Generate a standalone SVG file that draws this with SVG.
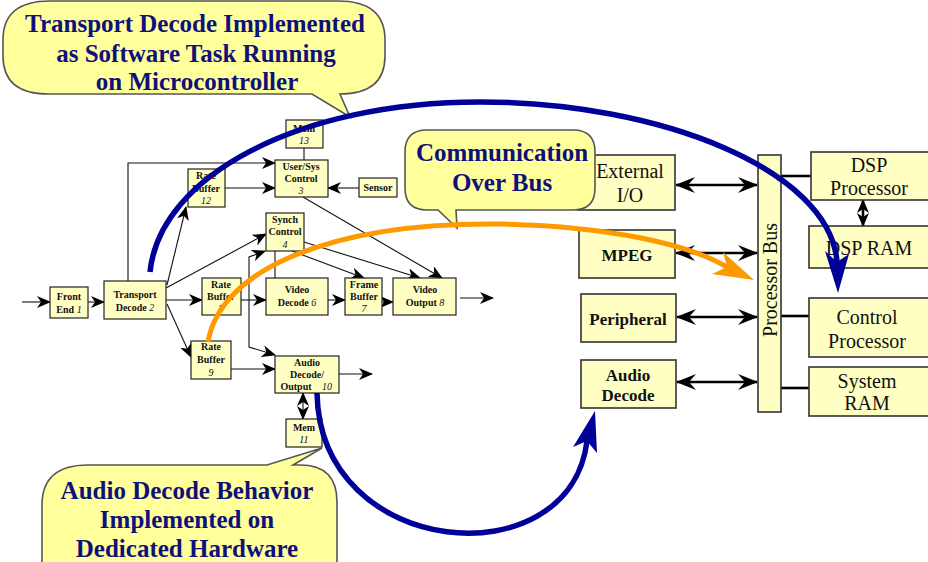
<svg xmlns="http://www.w3.org/2000/svg" width="928" height="562" viewBox="0 0 928 562">
  <defs>
    <style>
      .box { fill: #ffffc4; stroke: #222; stroke-width: 1.2; }
      .bigbox { fill: #ffffc4; stroke: #333; stroke-width: 1.6; }
      .t { font-family: "Liberation Serif", serif; font-weight: bold; font-size: 10px; text-anchor: middle; fill: #111; }
      .num { font-style: italic; font-weight: normal; }
      .rt { font-family: "Liberation Serif", serif; font-size: 20px; text-anchor: middle; fill: #111; }
      .rbt { font-family: "Liberation Serif", serif; font-weight: bold; font-size: 17px; text-anchor: middle; fill: #111; }
      .line { fill: none; stroke: #111; stroke-width: 1.1; }
      .arr { marker-end: url(#head); }
      .bus { fill: none; stroke: #000; stroke-width: 2.6; }
      .bubble { fill: #ffff9c; stroke: #555; stroke-width: 1.6; }
      .ct { font-family: "Liberation Serif", serif; font-weight: bold; font-size: 25px; text-anchor: middle; fill: #10107a; }
      .blue { fill: none; stroke: #000099; stroke-width: 5.5; }
      .orange { fill: none; stroke: #ff9900; stroke-width: 5; }
    </style>
    <marker id="head" markerUnits="userSpaceOnUse" viewBox="0 0 14 12" refX="13" refY="6" markerWidth="14" markerHeight="12" orient="auto-start-reverse">
      <path d="M0,0 L14,6 L0,12 L4,6 Z" fill="#000"/>
    </marker>
    <marker id="bighead" markerUnits="userSpaceOnUse" viewBox="0 0 20 16" refX="19" refY="8" markerWidth="20" markerHeight="16" orient="auto-start-reverse">
      <path d="M0,0 L20,8 L0,16 L7,8 Z" fill="#000"/>
    </marker>
  </defs>

  <rect width="928" height="562" fill="#fff"/>

  <!-- connectors -->
  <g id="connectors">
    <path class="line arr" d="M22,302 H50"/>
    <path class="line arr" d="M88,302 H104"/>
    <path class="line arr" d="M166,300 H202"/>
    <path class="line arr" d="M128,281 V163 H275"/>
    <path class="line arr" d="M225,188 H275"/>
    <path class="line arr" d="M359,188 H328"/>
    <path class="line" d="M304,148 V160"/>
    <path class="line arr" d="M167,285 L186,207"/>
    <path class="line arr" d="M166,288 L266,234"/>
    <path class="line arr" d="M167,304 L191,357"/>
    <path class="line arr" d="M241,300 H266"/>
    <path class="line arr" d="M249,300 V257 L265,251"/>
    <path class="line arr" d="M249,300 V347 L275,355"/>
    <path class="line" d="M275,251 V278"/>
    <path class="line arr" d="M292,251 L364,278"/>
    <path class="line arr" d="M304,242 L420,278"/>
    <path class="line arr" d="M303,197 L442,278"/>
    <path class="line arr" d="M328,300 H345"/>
    <path class="line arr" d="M382,302 H393"/>
    <path class="line arr" d="M460,298 H493"/>
    <path class="line arr" d="M231,369 H275"/>
    <path class="line arr" d="M339,374 H372"/>
    <path class="line" d="M303,393 V419" stroke-width="2.5" marker-start="url(#head)" marker-end="url(#head)"/>

    <path class="bus" d="M676,185 H757" marker-start="url(#bighead)" marker-end="url(#bighead)"/>
    <path class="bus" d="M676,253 H757" marker-start="url(#bighead)" marker-end="url(#bighead)"/>
    <path class="bus" d="M677,317 H757" marker-start="url(#bighead)" marker-end="url(#bighead)"/>
    <path class="bus" d="M677,382 H757" marker-start="url(#bighead)" marker-end="url(#bighead)"/>
    <path class="bus" d="M781,176 H811"/>
    <path class="bus" d="M781,316 H809"/>
    <path class="bus" d="M781,388 H809"/>
    <path class="bus" d="M863,200 V226" marker-start="url(#head)" marker-end="url(#head)"/>
  </g>

  <!-- block diagram nodes -->
  <g id="front-end"><rect class="box" x="50" y="287" width="38" height="31"/>
    <text class="t" x="69" y="300">Front</text><text class="t" x="69" y="313">End <tspan class="num">1</tspan></text></g>
  <g id="transport-decode"><rect class="box" x="104" y="281" width="62" height="38"/>
    <text class="t" x="135" y="298">Transport</text><text class="t" x="135" y="311">Decode <tspan class="num">2</tspan></text></g>
  <g id="rate-buffer-12"><rect class="box" x="188" y="169" width="37" height="38"/>
    <text class="t" x="206" y="179">Rate</text><text class="t" x="206" y="192">Buffer</text><text class="t num" x="206" y="204">12</text></g>
  <g id="mem-13"><rect class="box" x="286" y="120" width="37" height="28"/>
    <text class="t" x="304" y="132">Mem</text><text class="t num" x="304" y="144">13</text></g>
  <g id="user-sys-control"><rect class="box" x="275" y="160" width="53" height="37"/>
    <text class="t" x="301" y="170">User/Sys</text><text class="t" x="301" y="182">Control</text><text class="t num" x="301" y="194">3</text></g>
  <g id="sensor"><rect class="box" x="359" y="178" width="38" height="19"/>
    <text class="t" x="378" y="191" font-size="9">Sensor</text></g>
  <g id="synch-control"><rect class="box" x="266" y="213" width="38" height="38"/>
    <text class="t" x="285" y="223">Synch</text><text class="t" x="285" y="235">Control</text><text class="t num" x="285" y="248">4</text></g>
  <g id="rate-buffer-5"><rect class="box" x="202" y="278" width="39" height="37"/>
    <text class="t" x="221" y="288">Rate</text><text class="t" x="221" y="300">Buffer</text><text class="t num" x="221" y="312">5</text></g>
  <g id="video-decode"><rect class="box" x="266" y="278" width="62" height="37"/>
    <text class="t" x="297" y="293">Video</text><text class="t" x="297" y="306">Decode <tspan class="num">6</tspan></text></g>
  <g id="frame-buffer"><rect class="box" x="345" y="278" width="37" height="37"/>
    <text class="t" x="364" y="288">Frame</text><text class="t" x="364" y="300">Buffer</text><text class="t num" x="364" y="312">7</text></g>
  <g id="video-output"><rect class="box" x="393" y="278" width="63" height="37"/>
    <text class="t" x="425" y="293">Video</text><text class="t" x="425" y="306">Output <tspan class="num">8</tspan></text></g>
  <g id="rate-buffer-9"><rect class="box" x="191" y="341" width="40" height="38"/>
    <text class="t" x="211" y="350">Rate</text><text class="t" x="211" y="363">Buffer</text><text class="t num" x="211" y="376">9</text></g>
  <g id="audio-decode-output"><rect class="box" x="275" y="356" width="64" height="37"/>
    <text class="t" x="307" y="366">Audio</text><text class="t" x="307" y="378">Decode/</text>
    <text class="t" x="296" y="390">Output</text><text class="t num" x="327" y="390">10</text></g>
  <g id="mem-11"><rect class="box" x="286" y="419" width="36" height="28"/>
    <text class="t" x="304" y="431">Mem</text><text class="t num" x="304" y="443">11</text></g>

  <!-- processor architecture nodes -->
  <g id="external-io"><rect class="bigbox" x="578" y="155" width="97" height="55"/>
    <text class="rt" x="630" y="178">External</text><text class="rt" x="630" y="202">I/O</text></g>
  <g id="mpeg"><rect class="bigbox" x="579" y="230" width="96" height="48"/>
    <text class="rbt" x="627" y="261">MPEG</text></g>
  <g id="peripheral"><rect class="bigbox" x="581" y="294" width="95" height="48"/>
    <text class="rbt" x="628" y="325">Peripheral</text></g>
  <g id="audio-decode"><rect class="bigbox" x="581" y="360" width="95" height="48"/>
    <text class="rbt" x="628" y="381">Audio</text><text class="rbt" x="628" y="401">Decode</text></g>
  <g id="processor-bus"><rect class="bigbox" x="758" y="155" width="23" height="257"/>
    <text class="rt" font-size="23" transform="translate(777,280) rotate(-90)">Processor Bus</text></g>
  <g id="dsp-processor"><rect class="bigbox" x="811" y="152" width="122" height="48"/>
    <text class="rt" x="869" y="172">DSP</text><text class="rt" x="869" y="195">Processor</text></g>
  <g id="dsp-ram"><rect class="bigbox" x="809" y="226" width="124" height="42"/>
    <text class="rt" x="869" y="255">DSP RAM</text></g>
  <g id="control-processor"><rect class="bigbox" x="809" y="298" width="124" height="59"/>
    <text class="rt" x="867" y="324">Control</text><text class="rt" x="867" y="348">Processor</text></g>
  <g id="system-ram"><rect class="bigbox" x="809" y="367" width="124" height="49"/>
    <text class="rt" x="867" y="388">System</text><text class="rt" x="867" y="410">RAM</text></g>

  <!-- callouts -->
  <g id="callout-transport">
    <path class="bubble" d="M50,1 H338 Q385,1 385,40 V56 Q385,94 340,94 L350,117 L312,94 H48 Q3,94 3,56 V40 Q3,1 50,1 Z"/>
    <text class="ct" x="195" y="32">Transport Decode Implemented</text>
    <text class="ct" x="196" y="62">as Software Task Running</text>
    <text class="ct" x="197" y="90">on Microcontroller</text>
  </g>
  <g id="callout-bus">
    <path class="bubble" d="M427,130 H573 Q595,130 595,152 V188 Q595,210 573,210 H456 L457,228 L438,210 H427 Q405,210 405,188 V152 Q405,130 427,130 Z"/>
    <text class="ct" x="502" y="161" font-size="24">Communication</text>
    <text class="ct" x="502" y="191" font-size="24">Over Bus</text>
  </g>
  <g id="callout-audio">
    <path class="bubble" d="M88,465 H267 L322,448 L293,465 H300 Q337,465 337,502 V600 H42 V505 Q42,465 88,465 Z"/>
    <text class="ct" x="187" y="499">Audio Decode Behavior</text>
    <text class="ct" x="187" y="528">Implemented on</text>
    <text class="ct" x="187" y="557">Dedicated Hardware</text>
  </g>

  <!-- mapping arcs -->
  <g id="mapping-arcs">
    <path class="blue" d="M150,272 C160,175 300,102 480,102 C660,102 830,170 837,262"/>
    <polygon fill="#000099" points="838,293 825,251 837,262 849,254"/>
    <path class="orange" d="M208,342 C220,270 330,222 500,224 C610,226 690,245 727,267"/>
    <polygon fill="#ff9900" points="754,280 723,252 727,267 712,274"/>
    <path class="blue" d="M317,393 C320,560 570,580 587,441"/>
    <polygon fill="#000099" points="595,411 573,447 587,441 597,453"/>
  </g>
</svg>
